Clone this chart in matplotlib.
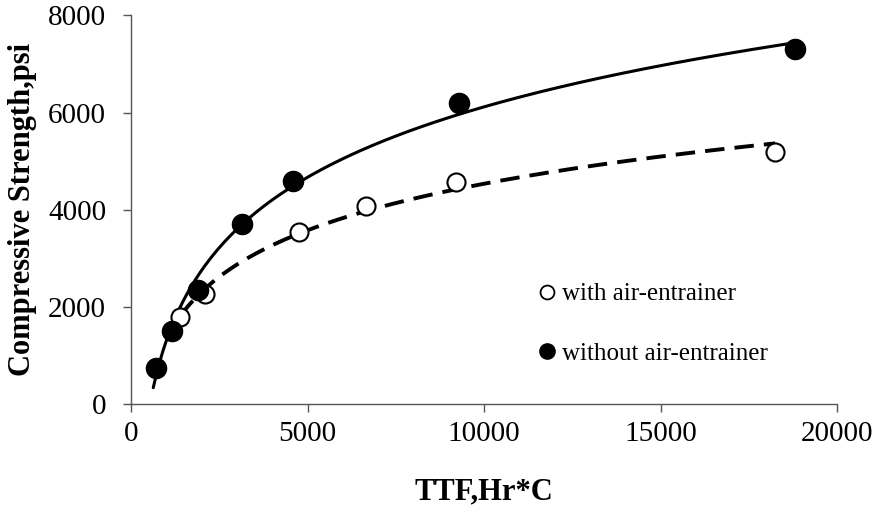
import numpy as np
import matplotlib
matplotlib.use('Agg')
import matplotlib.pyplot as plt
from matplotlib.lines import Line2D

# 데이터
ttf_with = [1400, 2100, 4750, 6650, 9200, 18250]
str_with = [1800, 2270, 3550, 4080, 4580, 5180]
ttf_without = [700, 1150, 1900, 3150, 4600, 9300, 18800]
str_without = [750, 1500, 2350, 3700, 4600, 6200, 7300]

x_ticks = [0, 5000, 10000, 15000, 20000]
y_ticks = [0, 2000, 4000, 6000, 8000]

plt.rcParams['font.family'] = ['Liberation Serif', 'DejaVu Serif']

fig = plt.figure(figsize=(8.77, 5.23), dpi=100)
ax = fig.add_axes([0.1494, 0.2275, 0.805, 0.7429])


# 로그 추세선 (엑셀 trendline 처럼)
def log_fit(x, y, start=1.0):
    x = np.asarray(x, float)
    a, b = np.polyfit(np.log(x), y, 1)
    xs = np.linspace(x.min() * start, x.max(), 200)
    return xs, a * np.log(xs) + b


xs, ys = log_fit(ttf_without, str_without, 0.9)
ax.plot(xs, ys, color='black', lw=2.2, solid_capstyle='round', zorder=2)
xs, ys = log_fit(ttf_with, str_with)
ax.plot(xs, ys, color='black', lw=2.8, dashes=(5, 2.6), zorder=2)

ax.plot(ttf_with, str_with, 'o', ms=13, mfc='white', mec='black', mew=1.5,
        ls='none', zorder=3)
ax.plot(ttf_without, str_without, 'o', ms=14.5, mfc='black', mec='black',
        ls='none', zorder=4)

ax.set_xlim(0, 20000)
ax.set_ylim(0, 8000)
ax.set_xticks(x_ticks)
ax.set_yticks(y_ticks)
ax.tick_params(direction='out', length=6, width=1, color='#555555',
               labelsize=21)
ax.tick_params(axis='y', pad=12)
ax.tick_params(axis='x', pad=6)
for s in ['top', 'right']:
    ax.spines[s].set_visible(False)
for s in ['left', 'bottom']:
    ax.spines[s].set_color('#555555')
    ax.spines[s].set_linewidth(1)

ax.set_xlabel('TTF,Hr*C', fontsize=22, fontweight='bold', labelpad=22)
ax.set_ylabel('Compressive Strength,psi', fontsize=22, fontweight='bold',
              labelpad=8)

handles = [
    Line2D([], [], marker='o', ls='none', ms=10, mfc='white', mec='black',
           mew=1.3),
    Line2D([], [], marker='o', ls='none', ms=11, mfc='black', mec='black'),
]
ax.legend(handles, ['with air-entrainer', 'without air-entrainer'],
          loc='upper left', bbox_to_anchor=(0.578, 0.312), frameon=False,
          fontsize=18, handlelength=0.6, handletextpad=0.3,
          labelspacing=1.47, borderpad=0, borderaxespad=0)

fig.savefig('out.png', dpi=100)
